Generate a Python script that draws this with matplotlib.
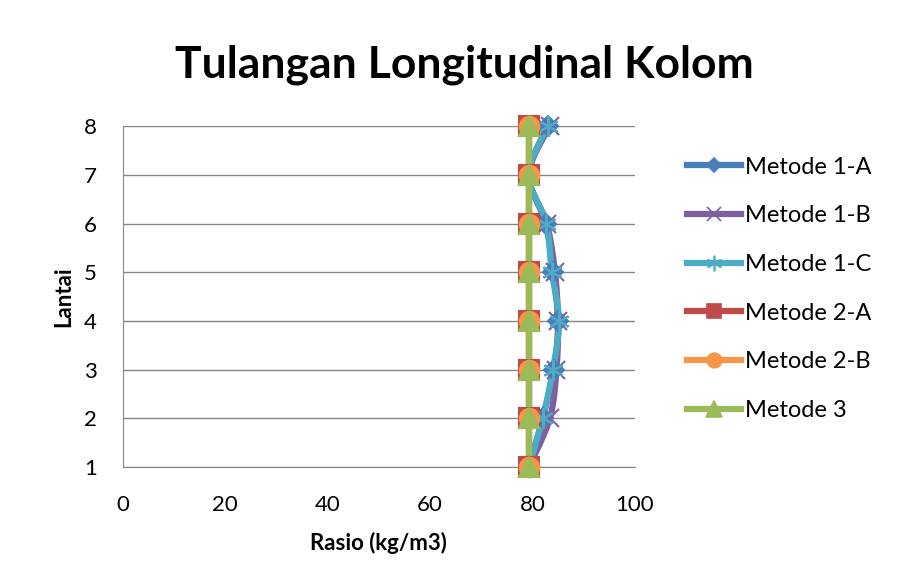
import numpy as np
import matplotlib.pyplot as plt
from matplotlib.lines import Line2D

plt.rcParams['font.family'] = ['Lato', 'DejaVu Sans']

lantai = [1, 2, 3, 4, 5, 6, 7, 8]
metode_1a = [79.3, 82.0, 84.2, 85.0, 84.0, 82.6, 79.3, 83.0]
metode_1b = [79.3, 83.4, 84.7, 85.0, 84.4, 82.8, 79.3, 83.4]
metode_1c = [79.3, 82.0, 84.0, 85.2, 83.8, 82.7, 79.3, 83.0]
metode_2a = [79.3] * 8
metode_2b = [79.3] * 8
metode_3 = [79.3] * 8

series = [
    ("Metode 1-A", metode_1a, "#4A7EBB", "D", 10),
    ("Metode 1-B", metode_1b, "#7D60A0", "x", 13),
    ("Metode 1-C", metode_1c, "#4BACC6", (6, 2, 0), 15),
    ("Metode 2-A", metode_2a, "#BE4B48", "s", 14),
    ("Metode 2-B", metode_2b, "#F79646", "o", 14),
    ("Metode 3", metode_3, "#9BBB59", "^", 15),
]


def smooth(xs, ys, n=20):
    # catmull-rom style smoothing like excel's "smoothed line"
    p = np.column_stack([xs, ys]).astype(float)
    p = np.vstack([p[0], p, p[-1]])
    out = []
    for i in range(1, len(p) - 2):
        p0, p1, p2, p3 = p[i - 1], p[i], p[i + 1], p[i + 2]
        t = np.linspace(0, 1, n)[:, None]
        seg = 0.5 * ((2 * p1) + (-p0 + p2) * t + (2 * p0 - 5 * p1 + 4 * p2 - p3) * t ** 2
                     + (-p0 + 3 * p1 - 3 * p2 + p3) * t ** 3)
        out.append(seg)
    out = np.vstack(out)
    return out[:, 0], out[:, 1]


fig = plt.figure(figsize=(9.01, 5.81), dpi=100)
ax = fig.add_axes([0.1365, 0.196, 0.568, 0.587])

handles = []
for name, vals, col, mk, ms in series:
    sx, sy = smooth(vals, lantai)
    ax.plot(sx, sy, color=col, lw=4.5, solid_capstyle='round', zorder=3)
    ax.plot(vals, lantai, ls='none', marker=mk, ms=ms, color=col,
            mec=col, mew=1.5, zorder=4, clip_on=False)
    handles.append(Line2D([], [], color=col, lw=4.5, marker=mk, ms=ms * 0.75, mec=col, mew=1.2))

ax.set_xlim(0, 100)
ax.set_ylim(1, 8)
ax.set_xticks(range(0, 101, 20))
ax.set_yticks(lantai)
ax.grid(axis='y', color='#868686', lw=1)
ax.set_axisbelow(True)
for s in ['top', 'right']:
    ax.spines[s].set_visible(False)
for s in ['left', 'bottom']:
    ax.spines[s].set_color('#868686')
ax.tick_params(length=0, labelsize=16)
ax.tick_params(axis='x', pad=20)
ax.tick_params(axis='y', pad=19)

ax.set_xlabel("Rasio (kg/m3)", fontsize=16, fontweight='bold', labelpad=12)
ax.set_ylabel("Lantai", fontsize=16, fontweight='bold', labelpad=7)
fig.text(0.515, 0.888, "Tulangan Longitudinal Kolom", fontsize=32,
         fontweight='bold', ha='center', va='center')

fig.legend(handles, [s[0] for s in series], loc='center left',
           bbox_to_anchor=(0.739, 0.503), frameon=False, fontsize=17,
           handlelength=2.3, labelspacing=1.17, handletextpad=0.15)

fig.savefig("out.png", dpi=100)
